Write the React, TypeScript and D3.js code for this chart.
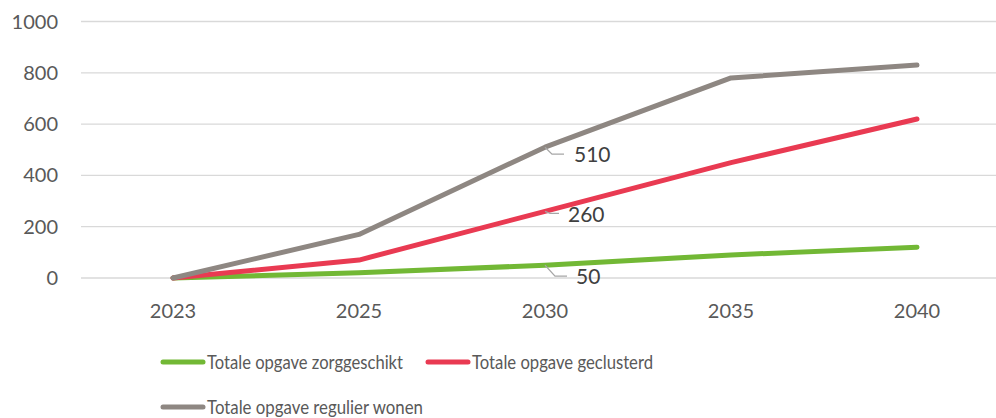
import React from 'react';
import * as d3 from 'd3';

const years = ['2023', '2025', '2030', '2035', '2040'];
const zorggeschikt = [0, 20, 50, 90, 120];
const geclusterd = [0, 70, 260, 450, 620];
const regulier = [0, 170, 510, 780, 830];
const yTicks = [0, 200, 400, 600, 800, 1000];

const series = [
  { name: 'Totale opgave zorggeschikt', values: zorggeschikt, color: '#72b835' },
  { name: 'Totale opgave geclusterd', values: geclusterd, color: '#e93a52' },
  { name: 'Totale opgave regulier wonen', values: regulier, color: '#8e8782' },
];

// labels shown at 2030
const labelIndex = 2;

const FONT = "Lato, 'Open Sans', sans-serif";

export default function App() {
  const width = 996;
  const height = 418;

  const x = d3.scalePoint<string>().domain(years).range([80, 1010]).padding(0.5);
  const y = d3.scaleLinear().domain([0, 1000]).range([278, 21.5]);

  const line = d3.line<number>()
    .x((_, i) => x(years[i]) as number)
    .y(d => y(d));

  const lx = x(years[labelIndex]) as number;

  // leader offsets per series (label position relative to the point)
  const leaders = [
    { dx: 10, dy: 11, hx: 22, tx: 31, ty: 19 },
    { dx: 5, dy: 2, hx: 14, tx: 23, ty: 11 },
    { dx: 7, dy: 7, hx: 19, tx: 29, ty: 15 },
  ];

  // legend placement (Calibri-like narrow text, so squeeze to the original widths)
  const legend = [
    { x: 163, y: 362, w: 196 },
    { x: 428, y: 362, w: 181 },
    { x: 163, y: 407, w: 216 },
  ];

  return (
    <svg width={width} height={height} style={{ position: 'absolute', left: 0, top: 0, background: '#fff' }}>
      {yTicks.map(t => (
        <g key={t}>
          <line x1={81} x2={width} y1={y(t)} y2={y(t)} stroke="#d9d9d9" strokeWidth={1.3} />
          <text x={58} y={y(t)} dy="0.35em" textAnchor="end" fontFamily={FONT} fontSize={20} fill="#595959">{t}</text>
        </g>
      ))}
      {years.map(yr => (
        <text key={yr} x={x(yr)} y={311} dy="0.35em" textAnchor="middle" fontFamily={FONT} fontSize={20} fill="#595959">{yr}</text>
      ))}
      {series.map(s => (
        <path key={s.name} d={line(s.values) || ''} fill="none" stroke={s.color} strokeWidth={5} strokeLinecap="round" strokeLinejoin="round" />
      ))}
      {series.map((s, i) => {
        const py = y(s.values[labelIndex]);
        const l = leaders[i];
        return (
          <g key={s.name + 'lbl'}>
            <polyline
              points={`${lx},${py} ${lx + l.dx},${py + l.dy} ${lx + l.hx},${py + l.dy}`}
              fill="none" stroke="#a6a6a6" strokeWidth={1.3} />
            <text x={lx + l.tx} y={py + l.ty} fontFamily={FONT} fontSize={21} fill="#404040">{s.values[labelIndex]}</text>
          </g>
        );
      })}
      {series.map((s, i) => {
        const lg = legend[i];
        return (
          <g key={s.name + 'leg'}>
            <line x1={lg.x} x2={lg.x + 40} y1={lg.y} y2={lg.y} stroke={s.color} strokeWidth={5} strokeLinecap="round" />
            <text x={lg.x + 44} y={lg.y} dy="0.35em" fontFamily={FONT} fontSize={20} fill="#595959"
              textLength={lg.w} lengthAdjust="spacingAndGlyphs">{s.name}</text>
          </g>
        );
      })}
    </svg>
  );
}
